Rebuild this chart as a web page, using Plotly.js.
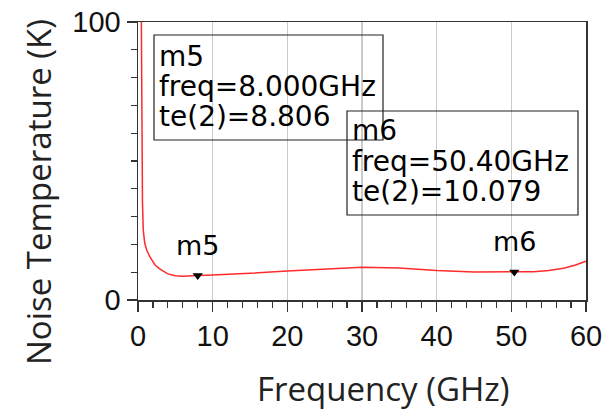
<!DOCTYPE html>
<html><head><meta charset="utf-8">
<script src="https://cdn.plot.ly/plotly-3.0.1.min.js"></script>
<style>html,body{margin:0;padding:0;background:#fff}#c{width:608px;height:417px}</style>
</head><body><div id="c"></div>
<script>
// Data
const freqGHz = [0.45,0.5,0.55,0.6,0.71,0.9,1.16,1.6,2.28,3,4,5,6,7,8,10,12,15,20,25,30,35,40,45,50.4,53,55,57,58.5,60];
const noiseK  = [100,70,45,35,25,20.5,18,15.5,12.6,11,9.4,8.7,8.5,8.55,8.806,9.0,9.2,9.6,10.4,11.2,11.8,11.5,10.6,10.1,10.079,10.2,10.6,11.4,12.5,14];
const markerNames = ['m5','m6'];
const markerFreq = [8, 50.4];
const markerVal = [8.806, 10.079];
const markerFreqText = ['8.000GHz','50.40GHz'];
const markerValText = ['8.806','10.079'];
const xTickStep = 10, xMinorStep = 2;
const yTickStep = 100, yMinorStep = 10;

const W=608,H=417,L=138,R=22,T=22,B=117;
const pw=W-L-R, ph=H-T-B;
const px=x=>(x-L)/pw, py=y=>(H-B-y)/ph;

const boxFont={family:'DejaVu Sans',size:28,color:'#000'};
const boxes=[{x0:154,x1:383,y0:35,y1:140,lines:[56,86,116],tx:157},
             {x0:347,x1:578,y0:111,y1:215,lines:[130,161,191],tx:350}];
const shapes=[], annotations=[];
boxes.forEach((b,i)=>{
  shapes.push({type:'rect',xref:'paper',yref:'paper',x0:px(b.x0),x1:px(b.x1),y0:py(b.y1),y1:py(b.y0),line:{color:'#222',width:1.2}});
  const txt=[markerNames[i],'freq='+markerFreqText[i],'te(2)='+markerValText[i]];
  txt.forEach((t,j)=>annotations.push({xref:'paper',yref:'paper',x:px(b.tx),y:py(b.lines[j]),xanchor:'left',yanchor:'middle',text:t,showarrow:false,font:boxFont}));
});
markerNames.forEach((n,i)=>annotations.push({x:markerFreq[i],y:markerVal[i],text:n,showarrow:false,yanchor:'middle',yshift:30,font:{family:'DejaVu Sans',size:27,color:'#000'}}));
annotations.push({xref:'paper',yref:'paper',x:px(383),y:py(388),xanchor:'center',yanchor:'middle',text:'Frequency (GHz)',showarrow:false,font:{family:'Open Sans',size:33,color:'#222'}});
annotations.push({xref:'paper',yref:'paper',x:px(38),y:py(192),xanchor:'center',yanchor:'middle',textangle:-90,text:'Noise Temperature (K)',showarrow:false,font:{family:'Open Sans',size:33,color:'#222'}});

const traces=[
 {x:freqGHz,y:noiseK,mode:'lines',line:{color:'#ff2b2b',width:1.5},hoverinfo:'skip'},
 {x:markerFreq,y:markerVal,mode:'markers',marker:{symbol:'triangle-down',size:9,color:'#000'},hoverinfo:'skip'}
];
const tickFont={family:'Liberation Sans',size:29,color:'#111'};
const layout={width:W,height:H,margin:{l:L,r:R,t:T,b:B},showlegend:false,paper_bgcolor:'#fff',plot_bgcolor:'#fff',
 xaxis:{range:[0,60],tickmode:'linear',tick0:0,dtick:xTickStep,showgrid:true,gridcolor:'#cbcbcb',gridwidth:1.5,zeroline:false,
   showline:true,linecolor:'#333',linewidth:1.5,mirror:true,ticks:'outside',ticklen:10,tickcolor:'#333',tickwidth:1.5,tickfont:tickFont,
   minor:{tick0:0,dtick:xMinorStep,ticks:'outside',ticklen:6,tickcolor:'#333',tickwidth:1.2,showgrid:false}},
 yaxis:{range:[0,100],tickmode:'linear',tick0:0,dtick:yTickStep,showgrid:false,zeroline:false,
   showline:true,linecolor:'#333',linewidth:1.5,mirror:true,ticks:'outside',ticklen:10,tickcolor:'#333',tickwidth:1.5,tickfont:tickFont,
   minor:{tick0:0,dtick:yMinorStep,ticks:'outside',ticklen:6,tickcolor:'#333',tickwidth:1.2,showgrid:false}},
 shapes:shapes,annotations:annotations};
Plotly.newPlot('c',traces,layout,{staticPlot:true});
</script></body></html>
